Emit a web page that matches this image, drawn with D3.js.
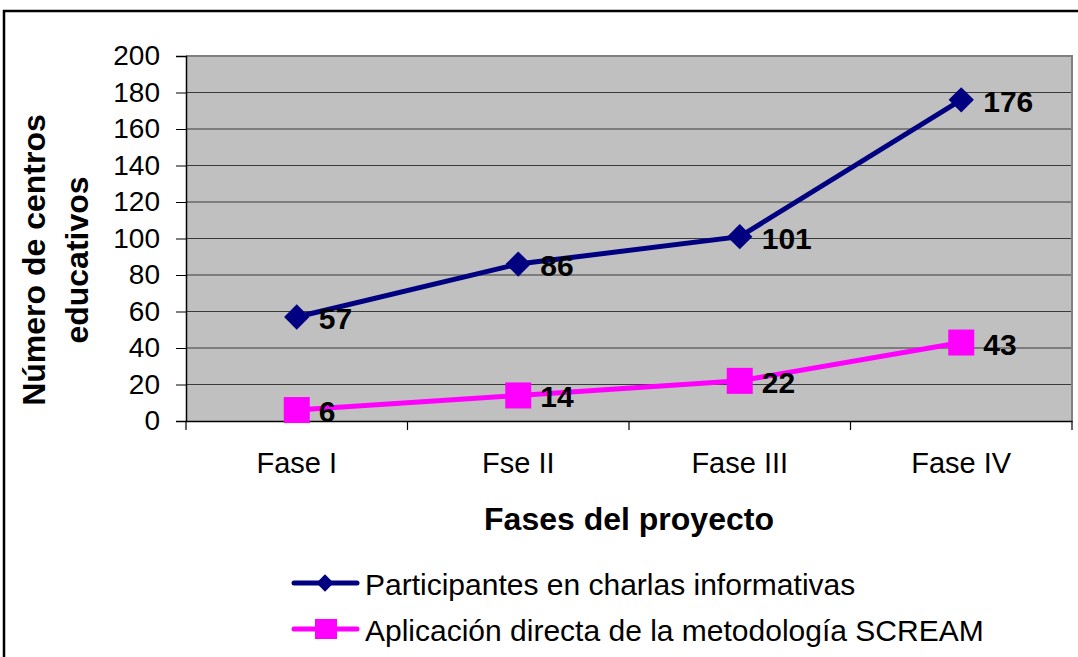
<!DOCTYPE html>
<html>
<head>
<meta charset="utf-8">
<script src="https://cdn.jsdelivr.net/npm/d3@7"></script>
<style>
  body { margin: 0; background: #fff; }
  svg { display: block; font-family: "Liberation Sans", Arial, sans-serif; }
</style>
</head>
<body>
<div id="chart"></div>
<script>
// data
var fases = ["Fase I", "Fse II", "Fase III", "Fase IV"];
var charlas = [57, 86, 101, 176];
var scream = [6, 14, 22, 43];
var yTicks = [0, 20, 40, 60, 80, 100, 120, 140, 160, 180, 200];
var seriesNames = ["Participantes en charlas informativas", "Aplicación directa de la metodología SCREAM"];

var W = 1078, H = 657;
var plot = { left: 186, right: 1072, top: 56, bottom: 421 };

var svg = d3.select("#chart").append("svg")
    .attr("width", W)
    .attr("height", H);

// outer frame (cut off on right/bottom)
svg.append("rect")
    .attr("x", 4).attr("y", 11)
    .attr("width", W + 20).attr("height", H + 20)
    .attr("fill", "none")
    .attr("stroke", "#000")
    .attr("stroke-width", 2.5);

var x = d3.scaleBand()
    .domain(fases)
    .range([plot.left, plot.right]);

var y = d3.scaleLinear()
    .domain([0, 200])
    .range([plot.bottom, plot.top]);

// plot area background
svg.append("rect")
    .attr("x", plot.left).attr("y", plot.top)
    .attr("width", plot.right - plot.left)
    .attr("height", plot.bottom - plot.top)
    .attr("fill", "#c0c0c0");

// gridlines
svg.append("g")
    .selectAll("line")
    .data(yTicks.filter(function(d) { return d > 0 && d < 200; }))
    .enter()
    .append("line")
    .attr("x1", plot.left).attr("x2", plot.right)
    .attr("y1", function(d) { return y(d); })
    .attr("y2", function(d) { return y(d); })
    .attr("stroke", "#3a3a3a")
    .attr("stroke-width", 1);

// plot border top/right (gray)
svg.append("path")
    .attr("d", "M" + plot.left + "," + plot.top + "H" + plot.right + "V" + plot.bottom)
    .attr("fill", "none")
    .attr("stroke", "#808080")
    .attr("stroke-width", 2);

// Y axis
var yAxis = svg.append("g")
    .attr("transform", "translate(" + plot.left + ",0)")
    .call(d3.axisLeft(y).tickValues(yTicks).tickSize(10).tickPadding(16));
yAxis.select(".domain").attr("stroke", "#000").attr("stroke-width", 1.5);
yAxis.selectAll(".tick line").attr("stroke", "#000");
yAxis.selectAll("text")
    .attr("font-size", 28)
    .attr("font-family", "'Liberation Sans', Arial, sans-serif")
    .attr("fill", "#000");

// X axis
var xAxis = svg.append("g")
    .attr("transform", "translate(0," + plot.bottom + ")")
    .call(d3.axisBottom(x).tickSize(0));
xAxis.select(".domain").attr("stroke", "#000").attr("stroke-width", 1.5);
xAxis.selectAll("text")
    .attr("y", 52)
    .attr("dy", 0)
    .attr("font-size", 29)
    .attr("font-family", "'Liberation Sans', Arial, sans-serif")
    .attr("fill", "#000");
// category boundary ticks
svg.append("g")
    .selectAll("line")
    .data(fases.map(function(d) { return x(d); }).concat([x.range()[1]]))
    .enter()
    .append("line")
    .attr("x1", function(d) { return d; })
    .attr("x2", function(d) { return d; })
    .attr("y1", plot.bottom)
    .attr("y2", plot.bottom + 9)
    .attr("stroke", "#000")
    .attr("stroke-width", 1.2);

var cx = function(d, i) { return x(fases[i]) + x.bandwidth() / 2; };

var line = d3.line()
    .x(function(d, i) { return cx(d, i); })
    .y(function(d) { return y(d); });

// series 1: charlas
svg.append("path")
    .datum(charlas)
    .attr("d", line)
    .attr("fill", "none")
    .attr("stroke", "#000080")
    .attr("stroke-width", 5);
svg.append("g")
    .selectAll("path")
    .data(charlas)
    .enter()
    .append("path")
    .attr("d", d3.symbol().type(d3.symbolSquare).size(320))
    .attr("transform", function(d, i) { return "translate(" + cx(d, i) + "," + y(d) + ") rotate(45)"; })
    .attr("fill", "#000080");

// series 2: scream
svg.append("path")
    .datum(scream)
    .attr("d", line)
    .attr("fill", "none")
    .attr("stroke", "#ff00ff")
    .attr("stroke-width", 5);
svg.append("g")
    .selectAll("rect")
    .data(scream)
    .enter()
    .append("rect")
    .attr("x", function(d, i) { return cx(d, i) - 13; })
    .attr("y", function(d) { return y(d) - 13; })
    .attr("width", 26).attr("height", 26)
    .attr("fill", "#ff00ff");

// data labels
function addLabels(data) {
    svg.append("g")
        .selectAll("text")
        .data(data)
        .enter()
        .append("text")
        .attr("x", function(d, i) { return cx(d, i) + 22; })
        .attr("y", function(d) { return y(d) + 12; })
        .attr("font-size", 30)
        .attr("font-weight", "bold")
        .attr("fill", "#000")
        .text(function(d) { return d; });
}
addLabels(charlas);
addLabels(scream);

// axis titles
svg.append("text")
    .attr("x", (plot.left + plot.right) / 2)
    .attr("y", 530)
    .attr("text-anchor", "middle")
    .attr("font-size", 32)
    .attr("font-weight", "bold")
    .text("Fases del proyecto");

var yt = svg.append("text")
    .attr("transform", "translate(45,260) rotate(-90)")
    .attr("text-anchor", "middle")
    .attr("font-size", 32)
    .attr("font-weight", "bold");
yt.append("tspan").attr("x", 0).attr("dy", 0).text("Número de centros");
yt.append("tspan").attr("x", 0).attr("dy", 43).text("educativos");

// legend
var legend = svg.append("g").attr("transform", "translate(294,0)");
var legY = [583, 629];
legY.forEach(function(ly, i) {
    var col = i === 0 ? "#000080" : "#ff00ff";
    legend.append("line")
        .attr("x1", 0).attr("x2", 63)
        .attr("y1", ly).attr("y2", ly)
        .attr("stroke", col)
        .attr("stroke-width", 5)
        .attr("stroke-linecap", "round");
    if (i === 0) {
        legend.append("path")
            .attr("d", d3.symbol().type(d3.symbolSquare).size(150))
            .attr("transform", "translate(31," + ly + ") rotate(45)")
            .attr("fill", col);
    } else {
        legend.append("rect")
            .attr("x", 21).attr("y", ly - 10)
            .attr("width", 22).attr("height", 20)
            .attr("fill", col);
    }
    legend.append("text")
        .attr("x", 71)
        .attr("y", ly + 12)
        .attr("font-size", 30)
        .text(seriesNames[i]);
});
</script>
</body>
</html>
